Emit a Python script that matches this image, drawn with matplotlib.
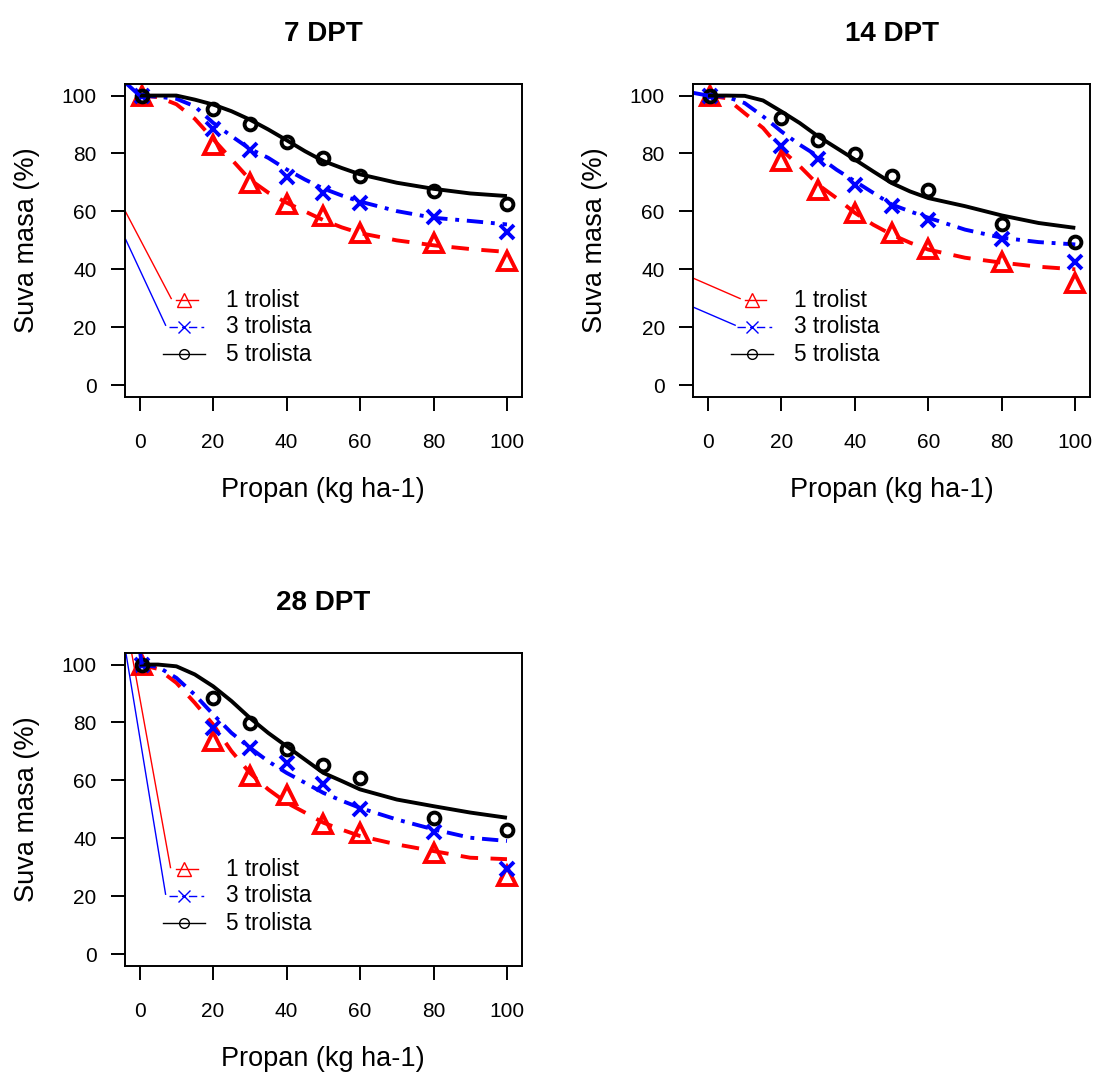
import matplotlib
matplotlib.use("Agg")
import matplotlib.pyplot as plt

plt.rcParams['font.family'] = ['Liberation Sans', 'DejaVu Sans']

titles = ["7 DPT", "14 DPT", "28 DPT"]
series_names = ["1 trolist", "3 trolista", "5 trolista"]
xlabel = "Propan (kg ha-1)"
ylabel = "Suva masa (%)"
xticks = [0, 20, 40, 60, 80, 100]
yticks = [0, 20, 40, 60, 80, 100]

# observed points
dose = [0.6, 20, 30, 40, 50, 60, 80, 100]
p7_t1 = [100, 82.8, 69.9, 62.4, 58.4, 52.6, 49.2, 42.9]
p7_t3 = [100, 88.5, 81.1, 71.8, 66.4, 62.8, 58.0, 52.9]
p7_t5 = [100, 95.4, 90.2, 84.1, 78.6, 72.2, 67.2, 62.5]
p14_t1 = [100, 77.3, 67.5, 59.3, 52.6, 46.9, 42.5, 35.4]
p14_t3 = [100, 82.7, 78.1, 69.2, 61.8, 57.2, 50.3, 42.5]
p14_t5 = [100, 92.2, 84.7, 79.8, 72.1, 67.3, 55.8, 49.4]
p28_t1 = [100, 73.6, 61.5, 54.8, 44.8, 41.9, 35.1, 27.0]
p28_t3 = [100, 78.2, 71.3, 65.9, 58.6, 50.2, 42.3, 29.5]
p28_t5 = [100, 88.3, 79.9, 70.9, 65.3, 60.7, 46.9, 42.8]

# fitted curves
cx = [0, 5, 10, 15, 20, 25, 30, 35, 40, 45, 50, 55, 60, 70, 80, 90, 100]
c7_t1 = [100, 99.5, 97, 92, 85, 78, 71, 66.5, 63, 60, 57, 54.5, 52.5, 50, 48.3, 47, 46]
c7_t3 = [100, 99.6, 98.9, 96.3, 90.6, 86.0, 81.6, 78.5, 74.5, 71.0, 67.9, 65.5, 63.4, 60.1, 57.8, 56.7, 55.5]
c7_t5 = [100, 100, 100, 98.6, 96.9, 94.6, 91.7, 88.3, 84.6, 80.8, 77.4, 75.0, 72.8, 69.9, 67.8, 66.2, 65.3]
c14_t1 = [100, 99.1, 93.9, 88.8, 81.3, 75.6, 69.2, 64.6, 59.5, 55.4, 52.0, 49.2, 46.8, 44.0, 42.3, 40.9, 40.0]
c14_t3 = [100, 99.6, 97.4, 92.8, 87.6, 83.0, 79.0, 74.4, 70.4, 66.4, 62.4, 60.0, 57.8, 53.7, 50.9, 49.4, 48.6]
c14_t5 = [100, 100, 99.9, 98.3, 94.5, 90.5, 85.9, 81.9, 77.9, 73.8, 69.8, 66.9, 64.6, 61.8, 58.6, 56.0, 54.3]
c28_t1 = [100, 98.5, 93.7, 86.8, 79.3, 70.1, 62.6, 56.9, 52.3, 48.9, 45.4, 43.0, 40.8, 37.9, 35.6, 33.3, 32.8]
c28_t3 = [100, 99.2, 95.4, 89.6, 82.8, 76.4, 71.3, 66.6, 62.6, 59.2, 55.7, 53.0, 50.5, 46.5, 43.1, 40.2, 39.1]
c28_t5 = [100, 100, 99.4, 96.6, 92.5, 87.4, 81.6, 76.4, 71.8, 67.2, 62.6, 59.8, 56.9, 53.4, 51.1, 48.9, 47.1]

# blue curve lead-in segments near the origin (x0, y0, x1, y1)
blue_lead = [(-3.8, 104.4, 0, 100), (-4.3, 101.0, 0, 100), (0.1, 104.5, 0.6, 100)]

# stray thin lines (x0, y0, x1, y1) red / blue
stray = [
    [(-3.8, 59.8, 8.6, 29.9), (-3.8, 50.3, 7.06, 20.7)],
    [(-4.3, 37.1, 8.75, 29.9), (-4.3, 27.1, 7.4, 20.7)],
    [(-2.25, 104.5, 8.4, 29.9), (-3.8, 104.5, 7.06, 20.7)],
]

points = [(p7_t1, p7_t3, p7_t5), (p14_t1, p14_t3, p14_t5), (p28_t1, p28_t3, p28_t5)]
curves = [(c7_t1, c7_t3, c7_t5), (c14_t1, c14_t3, c14_t5), (c28_t1, c28_t3, c28_t5)]

colors = ["#FF0000", "#0000FF", "#000000"]
markers = ["^", "x", "o"]
msizes = [12.5, 9.5, 8.5]
lmsizes = [10, 9, 7]
dashes = [(4.5, 3.2), (4.2, 2.0, 1.0, 2.0), None]
# legend sample segments (axes fraction x-extent) and dash patterns
leg_x = [(0.1294, 0.1839), (0.111, 0.2017), (0.0958, 0.2017)]
leg_dashes = [None, (6, 3, 2, 3), None]

fig = plt.figure(figsize=(10.98, 10.74), dpi=100)
positions = [
    [0.1138, 0.6306, 0.3613, 0.2912],
    [0.6314, 0.6306, 0.3613, 0.2912],
    [0.1138, 0.1008, 0.3613, 0.2912],
]

for k in range(3):
    ax = fig.add_axes(positions[k])
    for i in range(3):
        line, = ax.plot(cx, curves[k][i], color=colors[i], lw=2.8, solid_capstyle='butt',
                        dash_capstyle='butt')
        if dashes[i] is not None:
            line.set_dashes(dashes[i])
        ax.plot(dose, points[k][i], linestyle='none', marker=markers[i], ms=msizes[i],
                mfc='none', mec=colors[i], mew=2.8)
    x0, y0, x1, y1 = blue_lead[k]
    ax.plot([x0, x1], [y0, y1], color=colors[1], lw=2.8, solid_capstyle='butt')
    for i, (x0, y0, x1, y1) in enumerate(stray[k]):
        ax.plot([x0, x1], [y0, y1], color=colors[i], lw=1.0)
    # legend
    rows = [0.309, 0.2245, 0.1366]
    for i in range(3):
        l, = ax.plot(list(leg_x[i]), [rows[i]] * 2, transform=ax.transAxes,
                     color=colors[i], lw=1.0)
        if leg_dashes[i] is not None:
            l.set_dashes(leg_dashes[i])
        ax.plot([0.149], [rows[i]], transform=ax.transAxes, marker=markers[i],
                ms=lmsizes[i], mfc='none', mec=colors[i], mew=1.0, linestyle='none')
        ax.text(0.2546, rows[i], series_names[i], transform=ax.transAxes,
                fontsize=16.3, va='center', ha='left')
    ax.set_xlim(-4, 104)
    ax.set_ylim(-4, 104)
    ax.set_xticks(xticks)
    ax.set_yticks(yticks)
    ax.tick_params(direction='out', length=10, width=1.4, labelsize=15)
    ax.tick_params(axis='x', pad=16)
    ax.tick_params(axis='y', pad=10.5)
    for s in ax.spines.values():
        s.set_linewidth(1.4)
    ax.set_title(titles[k], fontsize=20, fontweight='bold', pad=31)
    ax.set_xlabel(xlabel, fontsize=19.5, va='center')
    ax.set_ylabel(ylabel, fontsize=19.5, va='center')
    ax.xaxis.set_label_coords(0.5, -0.297)
    ax.yaxis.set_label_coords(-0.247, 0.5)

fig.savefig("out.png", dpi=100)
